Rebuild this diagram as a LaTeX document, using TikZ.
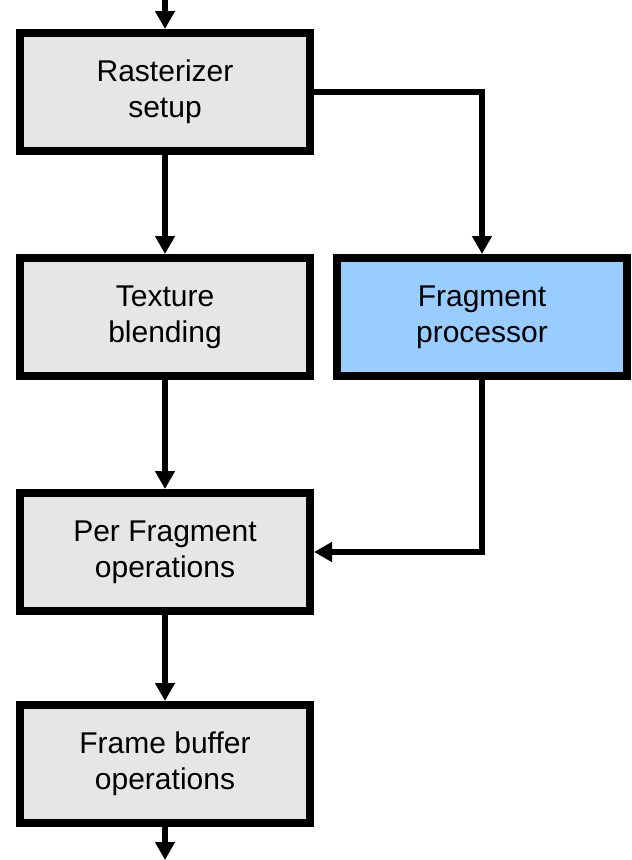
\documentclass[tikz,border=0pt]{standalone}
\usepackage{fontspec}
\setmainfont{Liberation Sans}
\usetikzlibrary{arrows.meta}
\definecolor{boxgray}{RGB}{230,230,230}
\definecolor{boxblue}{RGB}{153,204,255}
\begin{document}
\begin{tikzpicture}[x=1pt,y=1pt,
stage/.style={draw,line width=8pt,fill=boxgray,minimum width=290pt,minimum height=118pt,align=center,font=\fontsize{30}{36}\selectfont},
flow/.style={line width=5.5pt,-{Triangle[width=19pt,length=18pt]}}]
\useasboundingbox(0,0)rectangle(632,-860);
\node[stage](rast)at(165,-92){Rasterizer\\setup};
\node[stage](tex)at(165,-317){Texture\\blending};
\node[stage,fill=boxblue](frag)at(482,-317){Fragment\\processor};
\node[stage](perfrag)at(165,-552){Per Fragment\\operations};
\node[stage](fb)at(165,-764){Frame buffer\\operations};
\coordinate(in)at(165,0);
\coordinate(out)at(165,-860);
\draw[flow](in)--(rast);
\draw[flow](rast)--(tex);
\draw[flow](rast.east)-|(frag.north);
\draw[flow](tex)--(perfrag);
\draw[flow](frag.south)|-(perfrag.east);
\draw[flow](perfrag)--(fb);
\draw[flow](fb)--(out);
\end{tikzpicture}
\end{document}
